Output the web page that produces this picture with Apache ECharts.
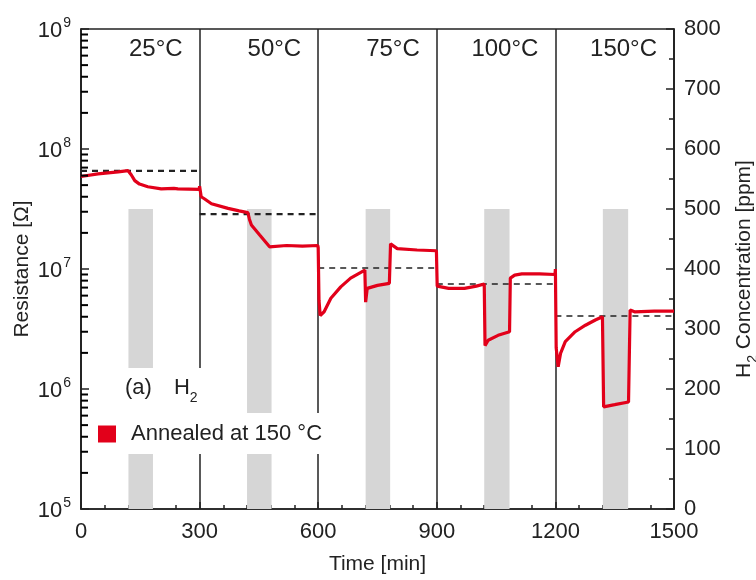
<!DOCTYPE html>
<html>
<head>
<meta charset="utf-8">
<script src="https://cdn.jsdelivr.net/npm/echarts@6/dist/echarts.min.js"></script>
<style>
  html, body { margin: 0; padding: 0; background: #fff; }
  #main { width: 756px; height: 580px; }
</style>
</head>
<body>
<div id="main"></div>
<script>
// resistance [Ohm] vs time [min], one list per temperature step
var r25 = [[0, 5.9e7], [43, 6.2e7], [94, 6.45e7], [119, 6.6e7], [127, 6.1e7], [136, 5.45e7], [148, 5.1e7],
  [169, 4.85e7], [203, 4.65e7], [235, 4.7e7], [245, 4.65e7], [299, 4.6e7]];
var r50 = [[300, 4.9e7], [304, 4.0e7], [312, 3.85e7], [330, 3.5e7], [372, 3.2e7], [400, 3.05e7], [422, 2.95e7],
  [426, 2.6e7], [431, 2.33e7], [452, 1.92e7], [477, 1.53e7], [520, 1.57e7], [560, 1.55e7], [599, 1.57e7]];
var r75 = [[600, 1.5e7], [602, 5.5e6], [605, 4.1e6], [615, 4.4e6], [632, 5.7e6], [657, 7.1e6], [682, 8.4e6],
  [718, 9.8e6], [720, 5.3e6], [724, 6.9e6], [750, 7.3e6], [780, 7.6e6], [783, 1.62e7], [800, 1.48e7],
  [850, 1.44e7], [899, 1.42e7]];
var r100 = [[900, 1.43e7], [901, 7.2e6], [930, 6.9e6], [970, 6.9e6], [1000, 7.2e6], [1020, 7.5e6], [1022, 2.3e6],
  [1030, 2.55e6], [1055, 2.8e6], [1084, 3.0e6], [1086, 8.4e6], [1097, 8.9e6], [1115, 9.1e6], [1160, 9.1e6],
  [1199, 9.0e6]];
var r150 = [[1200, 1.0e7], [1202, 2.2e6], [1207, 1.53e6], [1213, 1.98e6], [1225, 2.48e6], [1250, 3.0e6],
  [1276, 3.4e6], [1301, 3.76e6], [1319, 4.0e6], [1322, 7.1e5], [1350, 7.4e5], [1385, 7.8e5], [1389, 4.55e6],
  [1400, 4.4e6], [1450, 4.45e6], [1500, 4.45e6]];

var segEdges = [0, 300, 600, 900, 1200, 1500];
var tempLabels = ['25°C', '50°C', '75°C', '100°C', '150°C'];
var baseline = [6.56e7, 2.87e7, 1.02e7, 7.5e6, 4.06e6];

// H2 pulses
var gasOn = [120, 420, 720, 1020, 1320];
var gasOff = [182, 482, 782, 1084, 1384];
var gasPpm = 500;

var decades = [5, 6, 7, 8];
var minorMantissa = [2, 3, 4, 5, 6, 7, 8, 9];

var ink = '#222';
var red = '#e2001a';

var resistance = r25.concat(r50, r75, r100, r150);

var conc = [[0, 0]];
gasOn.forEach(function (t, i) {
  conc.push([t, 0], [t, gasPpm], [gasOff[i], gasPpm], [gasOff[i], 0]);
});
conc.push([1500, 0]);

var minorTicks = [];
decades.forEach(function (d) {
  minorMantissa.forEach(function (m) { minorTicks.push([0, m * Math.pow(10, d)]); });
});

var dashSeries = baseline.map(function (b, i) {
  return {
    type: 'line',
    yAxisIndex: 0,
    symbol: 'none',
    silent: true,
    z: 3,
    lineStyle: { color: ink, width: i < 2 ? 2.2 : 1.5, type: [6, 5] },
    data: [[segEdges[i], b], [segEdges[i + 1], b]]
  };
});

var chart = echarts.init(document.getElementById('main'));

chart.setOption({
  animation: false,
  backgroundColor: '#fff',
  textStyle: { fontFamily: 'Liberation Sans, Arial, sans-serif', color: ink },
  grid: {
    left: 81, right: 82, top: 29, bottom: 71,
    outerBoundsMode: 'none',
    containLabel: false,
    show: true, borderColor: ink, borderWidth: 1.5
  },
  title: {
    text: '{a|(a)}{h|H}{s|2}',
    left: 118, top: 368,
    padding: [9, 10, 8, 7],
    backgroundColor: '#fff',
    textStyle: {
      fontWeight: 'normal',
      rich: {
        a: { fontSize: 22, fontWeight: 'normal', color: ink, padding: [0, 22, 6, 0], verticalAlign: 'bottom' },
        h: { fontSize: 22, fontWeight: 'normal', color: ink, padding: [0, 0, 6, 0], verticalAlign: 'bottom' },
        s: { fontSize: 14, fontWeight: 'normal', color: ink, verticalAlign: 'bottom' }
      }
    }
  },
  legend: {
    data: ['Annealed at 150 °C'],
    left: 88, top: 413,
    padding: [10, 14, 9, 10],
    backgroundColor: '#fff',
    icon: 'rect',
    itemWidth: 18, itemHeight: 17,
    textStyle: { fontSize: 22, color: ink, padding: [0, 0, 0, 10] }
  },
  xAxis: {
    type: 'value',
    min: 0, max: 1500, interval: 300,
    name: 'Time [min]',
    nameLocation: 'middle',
    nameMoveOverlap: false,
    nameGap: 45,
    nameTextStyle: { fontSize: 21, color: ink },
    axisLine: { lineStyle: { color: ink, width: 1.5 } },
    axisTick: { inside: true, length: 7, lineStyle: { color: ink, width: 1.5 } },
    minorTick: { show: true, splitNumber: 5, length: 4, lineStyle: { color: ink, width: 1.5 } },
    axisLabel: { fontSize: 22, color: ink, margin: 12, formatter: function (v) { return String(v); } },
    splitLine: { show: true, lineStyle: { color: ink, width: 1.5 } }
  },
  yAxis: [{
    type: 'log',
    logBase: 10,
    min: 1e5, max: 1e9,
    name: 'Resistance [Ω]',
    nameLocation: 'middle',
    nameMoveOverlap: false,
    nameRotate: 90,
    nameGap: 48,
    nameTextStyle: { fontSize: 21, color: ink },
    axisLine: { show: true, lineStyle: { color: ink, width: 1.5 } },
    axisTick: { inside: true, length: 8, lineStyle: { color: ink, width: 1.5 } },
    axisLabel: {
      margin: 10,
      formatter: function (v) {
        return '{b|10}{s|' + Math.round(Math.log10(v)) + '}';
      },
      rich: {
        b: { fontSize: 22, color: ink, verticalAlign: 'bottom' },
        s: { fontSize: 14, color: ink, padding: [0, 0, 11, 1], verticalAlign: 'bottom' }
      }
    },
    splitLine: { show: false }
  }, {
    type: 'value',
    position: 'right',
    min: 0, max: 800, interval: 100,
    name: '{h|H}{s|2}{c| Concentration [ppm]}',
    nameLocation: 'middle',
    nameMoveOverlap: false,
    nameRotate: 90,
    nameGap: 60,
    nameTextStyle: {
      rich: {
        h: { fontSize: 21, color: ink, padding: [0, 0, 5, 0], verticalAlign: 'bottom' },
        s: { fontSize: 14, color: ink, verticalAlign: 'bottom' },
        c: { fontSize: 21, color: ink, padding: [0, 0, 5, 0], verticalAlign: 'bottom' }
      }
    },
    axisLine: { show: true, lineStyle: { color: ink, width: 1.5 } },
    axisTick: { inside: true, length: 8, lineStyle: { color: ink, width: 1.5 } },
    minorTick: { show: true, splitNumber: 2, length: 5, lineStyle: { color: ink, width: 1.5 } },
    axisLabel: { fontSize: 22, color: ink, margin: 10 },
    splitLine: { show: false }
  }],
  series: [{
    // H2 concentration pulses on the right axis
    type: 'line',
    yAxisIndex: 1,
    symbol: 'none',
    silent: true,
    z: 1,
    lineStyle: { width: 0 },
    areaStyle: { color: '#d6d6d6', opacity: 1 },
    data: conc
  }, {
    // minor ticks of the log axis at 2..9 x 10^n
    name: 'minor',
    type: 'scatter',
    xAxisIndex: 0,
    yAxisIndex: 0,
    clip: false,
    z: 6,
    symbol: 'rect',
    symbolSize: [7, 2],
    symbolOffset: [3.5, 0],
    itemStyle: { color: '#000', opacity: 1 },
    data: minorTicks
  }, {
    // temperature labels
    type: 'scatter',
    yAxisIndex: 0,
    symbolSize: 0,
    silent: true,
    itemStyle: { opacity: 1 },
    data: tempLabels.map(function (s, i) { return { name: s, value: [segEdges[i + 1], 6.7e8] }; }),
    label: { show: true, position: 'left', distance: 17, formatter: '{b}', fontSize: 24, color: ink }
  }].concat(dashSeries, [{
    name: 'Annealed at 150 °C',
    type: 'line',
    yAxisIndex: 0,
    symbol: 'none',
    z: 5,
    itemStyle: { color: red },
    lineStyle: { color: red, width: 3.2 },
    data: resistance
  }])
});
</script>
</body>
</html>
